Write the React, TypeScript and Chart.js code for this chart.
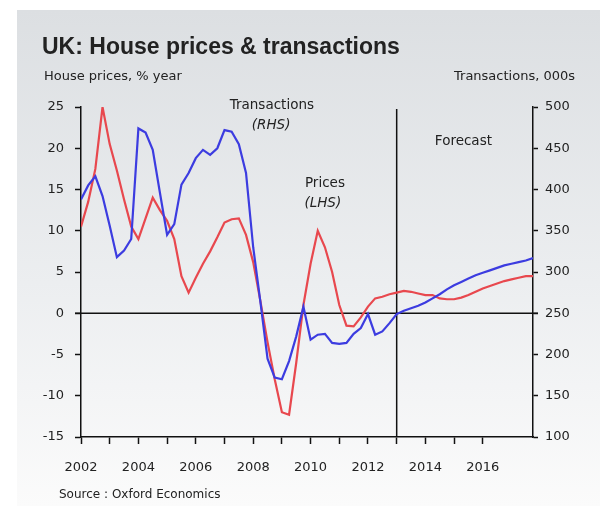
import React, { useEffect, useRef } from 'react';
import { Chart, registerables } from 'chart.js';

Chart.register(...registerables);

// Quarterly data, 2002 Q1 – 2017 Q4 (2013 onwards = forecast)
const startYear = 2002;
const quarterLabels: string[] = [];
for (let y = 2002; y <= 2017; y++) for (let q = 1; q <= 4; q++) quarterLabels.push(`${y} Q${q}`);

// House prices, % year (LHS)
const housePrices = [
  10.5, 13.5, 17.5, 25, 20.5, 17.3, 13.8, 10.5,
  9, 11.5, 14, 12.5, 11.2, 9, 4.5, 2.5,
  4.3, 6, 7.5, 9.2, 11, 11.4, 11.5, 9.5,
  6.2, 1.5, -3.5, -8, -12, -12.3, -6, 1,
  6, 10, 8, 5, 1, -1.5, -1.6, -0.5,
  0.8, 1.8, 2.0, 2.3, 2.5, 2.7, 2.6, 2.4,
  2.2, 2.2, 1.8, 1.7, 1.7, 1.9, 2.2, 2.6,
  3.0, 3.3, 3.6, 3.9, 4.1, 4.3, 4.5, 4.5,
];

// Transactions, 000s (RHS)
const transactions = [
  388, 405, 416, 392, 356, 318, 326, 340,
  474, 469, 448, 396, 345, 358, 406, 420,
  438, 448, 442, 450, 472, 470, 455, 420,
  330, 264, 195, 172, 170, 192, 222, 258,
  218, 224, 225, 214, 213, 214, 225, 232,
  249, 224, 228, 238, 249, 253, 256, 259,
  263, 268, 273, 279, 284, 288, 292, 296,
  299, 302, 305, 308, 310, 312, 314, 317,
];

const leftMin = -15, leftMax = 25, leftStep = 5;
const rightMin = 100, rightMax = 500, rightStep = 50;
const forecastStart = 44; // 2013 Q1

const TITLE_FONT = '"Liberation Sans", Arial, sans-serif';
const FONT = '"DejaVu Sans", Verdana, sans-serif';
const TEXT = '#222222';
const RED = '#e8484e';
const BLUE = '#3c3ce0';

const decor = {
  id: 'decor',
  beforeDraw(chart: any) {
    const { ctx, width, height } = chart;
    ctx.save();
    ctx.fillStyle = '#ffffff';
    ctx.fillRect(0, 0, width, height);
    const g = ctx.createLinearGradient(0, 10, 0, height);
    g.addColorStop(0, '#dcdfe2');
    g.addColorStop(0.55, '#eceef0');
    g.addColorStop(1, '#fbfbfb');
    ctx.fillStyle = g;
    ctx.fillRect(17, 10, width - 17, height - 10);
    ctx.restore();
  },
  beforeDatasetsDraw(chart: any) {
    const { ctx, chartArea, scales } = chart;
    ctx.save();
    ctx.strokeStyle = '#111';
    ctx.lineWidth = 1.5;
    const y0 = scales.y.getPixelForValue(0);
    ctx.beginPath();
    ctx.moveTo(chartArea.left - 6, y0);
    ctx.lineTo(chartArea.right + 5, y0);
    ctx.stroke();
    const xf = scales.x.getPixelForValue(forecastStart);
    ctx.beginPath();
    ctx.moveTo(xf, chartArea.top + 2);
    ctx.lineTo(xf, chartArea.bottom);
    ctx.stroke();
    ctx.restore();
  },
  afterDraw(chart: any) {
    const { ctx, scales, width } = chart;
    const xs = scales.x, ys = scales.y;
    ctx.save();
    ctx.fillStyle = TEXT;
    ctx.textBaseline = 'middle';

    ctx.font = `bold 23px ${TITLE_FONT}`;
    ctx.textAlign = 'left';
    ctx.fillText('UK: House prices & transactions', 42, 48);

    ctx.font = `13px ${FONT}`;
    ctx.fillText('House prices, % year', 44, 77);
    ctx.textAlign = 'right';
    ctx.fillText('Transactions, 000s', width - 25, 77);

    ctx.textAlign = 'left';
    ctx.font = `12px ${FONT}`;
    ctx.fillText('Source : Oxford Economics', 59, 495);

    ctx.textAlign = 'center';
    ctx.font = `13.5px ${FONT}`;
    ctx.fillText('Transactions', xs.getPixelForValue(26.6), ys.getPixelForValue(25.2));
    ctx.font = `italic 13.5px ${FONT}`;
    ctx.fillText('(RHS)', xs.getPixelForValue(26.5), ys.getPixelForValue(22.8));

    ctx.font = `13.5px ${FONT}`;
    ctx.fillText('Prices', xs.getPixelForValue(34), ys.getPixelForValue(15.7));
    ctx.font = `italic 13.5px ${FONT}`;
    ctx.fillText('(LHS)', xs.getPixelForValue(33.7), ys.getPixelForValue(13.3));

    ctx.font = `13.5px ${FONT}`;
    ctx.fillText('Forecast', xs.getPixelForValue(53.3), ys.getPixelForValue(20.8));
    ctx.restore();
  },
};

export default function App() {
  const ref = useRef<HTMLCanvasElement | null>(null);

  useEffect(() => {
    if (!ref.current) return;
    const axisCommon = {
      grid: { drawOnChartArea: false, drawTicks: true, tickColor: '#111', tickWidth: 1.5 },
      border: { display: true, color: '#111', width: 1.5 },
    };
    const tickFont = { family: FONT, size: 13 };
    const chart = new Chart(ref.current, {
      type: 'line',
      data: {
        labels: quarterLabels,
        datasets: [
          {
            label: 'Transactions (RHS)',
            data: transactions.map((v, i) => ({ x: i, y: v })),
            yAxisID: 'y1',
            borderColor: BLUE,
            borderWidth: 2.2,
            pointRadius: 0,
            tension: 0,
            fill: false,
          },
          {
            label: 'Prices (LHS)',
            data: housePrices.map((v, i) => ({ x: i, y: v })),
            yAxisID: 'y',
            borderColor: RED,
            borderWidth: 2.2,
            pointRadius: 0,
            tension: 0,
            fill: false,
          },
        ],
      },
      options: {
        responsive: false,
        animation: false,
        devicePixelRatio: 1,
        layout: { padding: { left: 0, right: 0, top: 107, bottom: 25 } },
        plugins: { legend: { display: false }, tooltip: { enabled: false }, title: { display: false } },
        scales: {
          x: {
            type: 'linear',
            min: 0,
            max: quarterLabels.length - 1,
            ...axisCommon,
            grid: { ...axisCommon.grid, tickLength: 7 },
            afterBuildTicks: (s: any) => {
              s.ticks = s.ticks.filter((t: any) => t.value % 4 === 0);
            },
            afterFit: (s: any) => {
              s.height = 44;
            },
            ticks: {
              stepSize: 4,
              autoSkip: false,
              maxRotation: 0,
              padding: 16,
              color: TEXT,
              font: tickFont,
              callback: (v: any) => (v % 8 === 0 ? String(startYear + v / 4) : ''),
            },
          },
          y: {
            position: 'left',
            min: leftMin,
            max: leftMax,
            ...axisCommon,
            grid: { ...axisCommon.grid, tickLength: 6 },
            afterFit: (s: any) => {
              s.width = 81;
            },
            ticks: { stepSize: leftStep, padding: 11, color: TEXT, font: tickFont },
          },
          y1: {
            position: 'right',
            min: rightMin,
            max: rightMax,
            ...axisCommon,
            grid: { ...axisCommon.grid, tickLength: 5 },
            afterFit: (s: any) => {
              s.width = 67;
            },
            ticks: { stepSize: rightStep, padding: 7, color: TEXT, font: tickFont },
          },
        },
      },
      plugins: [decor],
    } as any);
    return () => chart.destroy();
  }, []);

  return (
    <div style={{ position: 'fixed', left: 0, top: 0, width: 600, height: 506 }}>
      <canvas ref={ref} width={600} height={506} style={{ display: 'block', width: 600, height: 506 }} />
    </div>
  );
}
